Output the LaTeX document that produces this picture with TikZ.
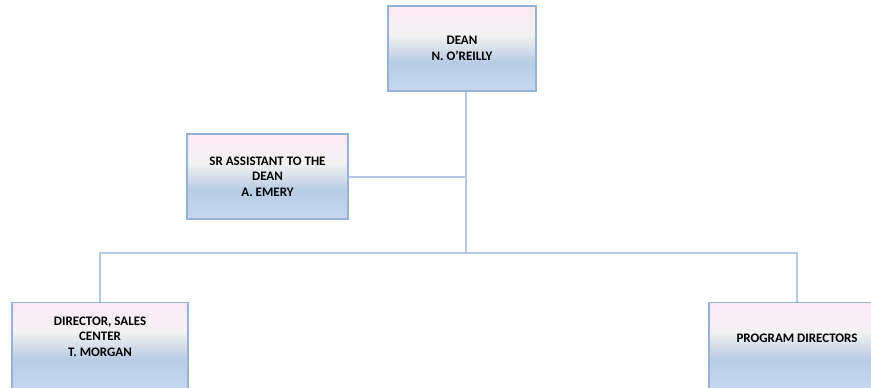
\documentclass[tikz,border=0pt]{standalone}
\usepackage{fontspec}
\setmainfont{Carlito}
\usetikzlibrary{positioning}

\definecolor{boxedge}{RGB}{149,179,215}
\definecolor{linkblue}{RGB}{180,201,228}
\pgfdeclareverticalshading{orgfill}{100bp}{
    color(0bp)=(rgb,255:red,198;green,216;blue,238);
    color(25bp)=(rgb,255:red,198;green,216;blue,238);
    color(42bp)=(rgb,255:red,184;green,204;blue,228);
    color(58bp)=(rgb,255:red,242;green,242;blue,242);
    color(75bp)=(rgb,255:red,252;green,233;blue,245);
    color(100bp)=(rgb,255:red,252;green,233;blue,245)
}

\tikzset{
    orgbox/.style={
        draw=boxedge,
        line width=1.2pt,
        shading=orgfill,
        align=center,
        font=\fontsize{13}{15.5}\selectfont\bfseries,
        inner sep=2pt
    },
    orglink/.style={
        draw=linkblue,
        line width=2pt
    }
}

\begin{document}
\begin{tikzpicture}[
    x=1pt,
    y=-1pt
]
    \useasboundingbox (0,0) rectangle (871,388);
    \node [orgbox,
        minimum width=148,
        minimum height=85,
        text depth=-6pt
    ] (dean) at (462,48.5) {DEAN\\N. O'REILLY};
    \node [orgbox,
        minimum width=161,
        minimum height=85
    ] (asst) at (267.5,176.5) {SR ASSISTANT TO THE\\DEAN\\A. EMERY};
    \node [orgbox,
        anchor=north,
        minimum width=176,
        minimum height=86,
        text depth=18pt
    ] (sales) at (100,302) {DIRECTOR, SALES\\CENTER\\T. MORGAN};
    \node [orgbox,
        anchor=north,
        minimum width=176,
        minimum height=86,
        text depth=14pt
    ] (prog) at (797,302) {PROGRAM DIRECTORS};
    \coordinate (hub) at (466,253);
    \begin{scope}[
        orglink
    ]
        \draw (dean.south -| hub) -- (hub);
        \draw (asst.east) -- (asst.east -| hub);
        \draw (sales.north) |- (hub) -| (prog.north);
    \end{scope}
\end{tikzpicture}
\end{document}
